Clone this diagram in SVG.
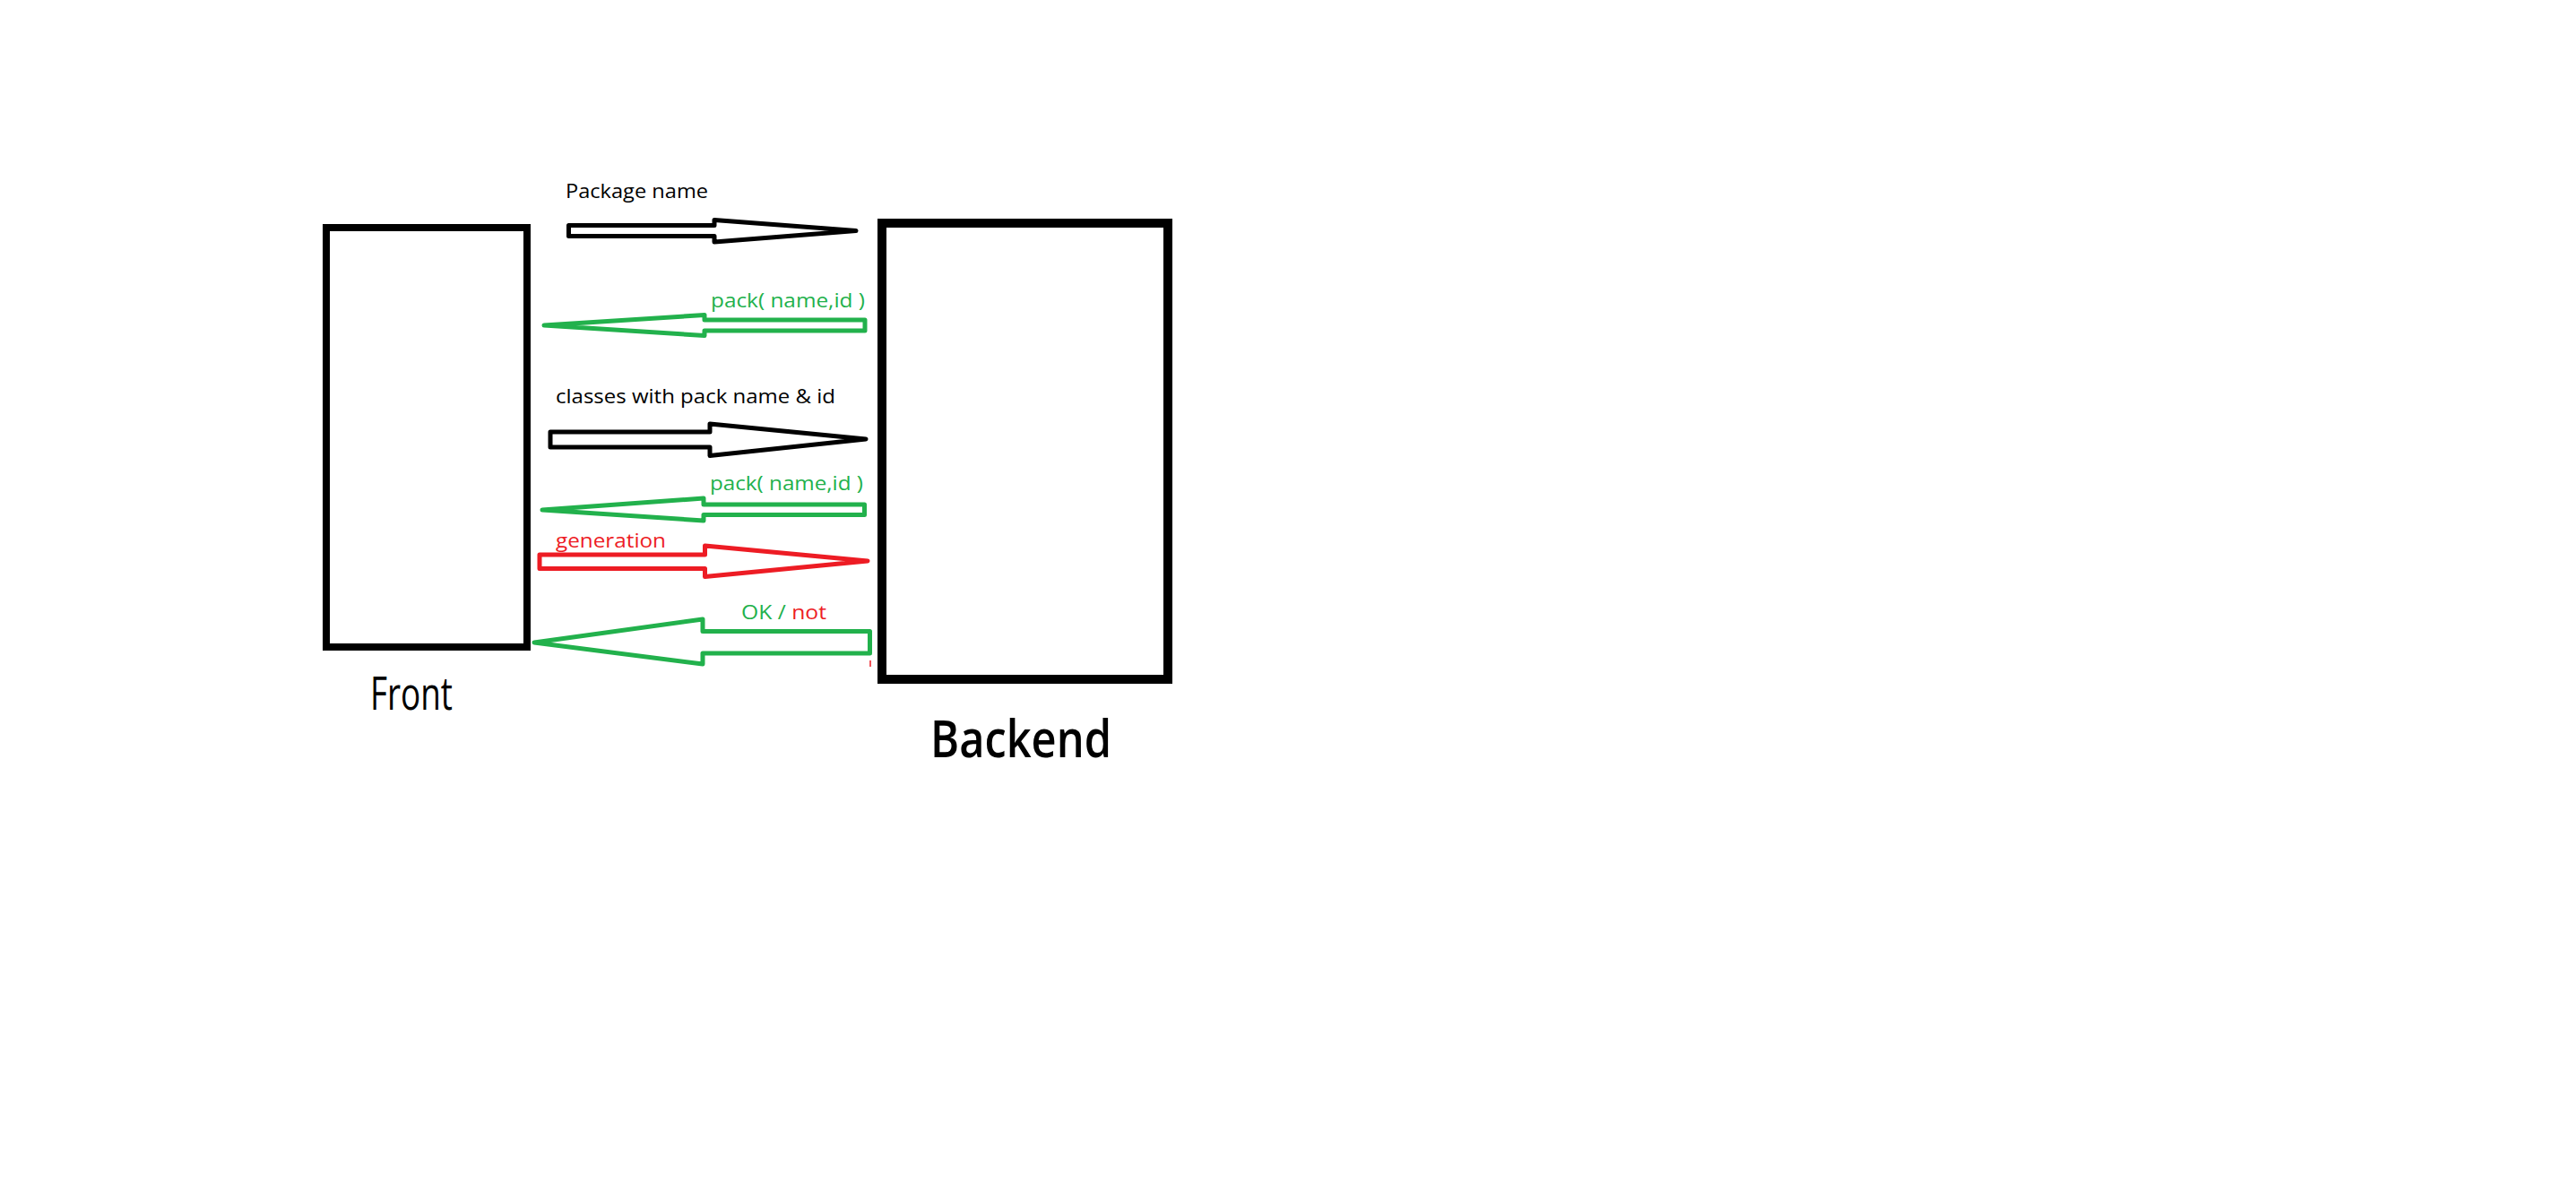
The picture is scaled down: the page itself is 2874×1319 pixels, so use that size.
<svg xmlns="http://www.w3.org/2000/svg" width="2874" height="1319" viewBox="0 0 2874 1319">
<style>
.node{fill:#fff;stroke:#000}
.arr{fill:#fff;stroke-width:5;stroke-linejoin:round}
.blk{stroke:#000}
.grn{stroke:#22b14c}
.red{stroke:#ed1c24}
.lbl{font-family:"Open Sans","Noto Sans","Liberation Sans",sans-serif;font-size:22px}
.big{font-family:"Open Sans","Noto Sans","Liberation Sans",sans-serif;fill:#000}
</style>
<rect width="2874" height="1319" fill="#fff"/>
<g id="front">
<rect class="node" x="364" y="254" width="224" height="468" stroke-width="8"/>
<text class="big" x="413" y="792" font-size="52" textLength="92" lengthAdjust="spacingAndGlyphs">Front</text>
</g>
<g id="backend">
<rect class="node" x="984" y="249" width="319" height="509" stroke-width="10"/>
<text class="big" x="1038" y="845" font-size="57" font-weight="600" textLength="202" lengthAdjust="spacingAndGlyphs">Backend</text>
</g>
<g id="connectors">
<g id="c1">
<polygon class="arr blk" points="634.5,251.5 797,251.5 797,245.5 955,257.5 797,270 797,263.5 634.5,263.5"/>
<text class="lbl" x="631" y="221" fill="#000" textLength="159" lengthAdjust="spacingAndGlyphs">Package name</text>
</g>
<g id="c2">
<polygon class="arr grn" points="965,357 786,357 786,351.5 607,363 786,374.5 786,369 965,369"/>
<text class="lbl" x="793" y="343" fill="#22b14c" textLength="172" lengthAdjust="spacingAndGlyphs">pack( name,id )</text>
</g>
<g id="c3">
<polygon class="arr blk" points="614,482 792,482 792,473 966,490 792,508.5 792,499 614,499"/>
<text class="lbl" x="620" y="450" fill="#000" textLength="312" lengthAdjust="spacingAndGlyphs">classes with pack name &amp; id</text>
</g>
<g id="c4">
<polygon class="arr grn" points="964.5,563 785,563 785,556 605,569 785,581 785,574.5 964.5,574.5"/>
<text class="lbl" x="792" y="547" fill="#22b14c" textLength="171" lengthAdjust="spacingAndGlyphs">pack( name,id )</text>
</g>
<g id="c5">
<polygon class="arr red" points="602,619 786.5,619 786.5,609 968,626 786.5,643.5 786.5,634.5 602,634.5"/>
<text class="lbl" x="620" y="611" fill="#ed1c24" textLength="123" lengthAdjust="spacingAndGlyphs">generation</text>
</g>
<g id="c6">
<polygon class="arr grn" points="970.5,704.5 784,704.5 784,691 596,717 784,741 784,729 970.5,729"/>
<text class="lbl" x="827" y="691" textLength="95" lengthAdjust="spacingAndGlyphs"><tspan fill="#22b14c">OK / </tspan><tspan fill="#ed1c24">not</tspan></text>
<line x1="971" y1="737" x2="971" y2="744" stroke="#ed1c24" stroke-width="1.5"/>
</g>
</g>
</svg>
